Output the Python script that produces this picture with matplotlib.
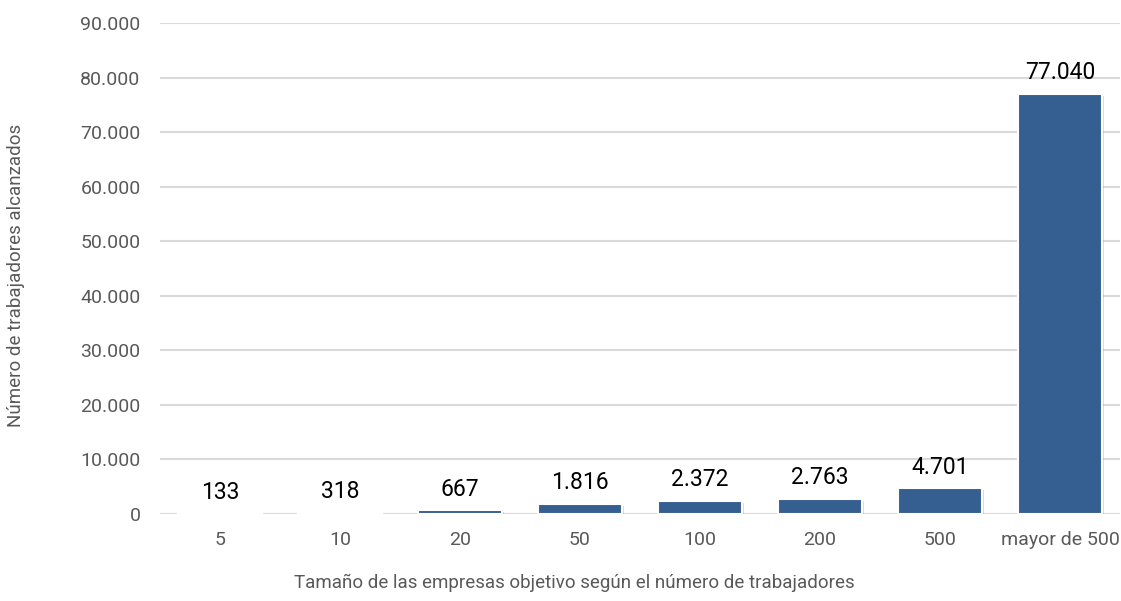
import matplotlib
matplotlib.use('Agg')
import matplotlib.pyplot as plt
import matplotlib.patheffects as pe
from matplotlib.ticker import FuncFormatter

# datos
categorias = ['5', '10', '20', '50', '100', '200', '500', 'mayor de 500']
trabajadores = [133, 318, 667, 1816, 2372, 2763, 4701, 77040]
etiquetas = ['133', '318', '667', '1.816', '2.372', '2.763', '4.701', '77.040']

COLOR_BARRA = '#365f91'
GRIS_TEXTO = '#595959'

plt.rcParams['font.family'] = ['Roboto', 'DejaVu Sans']

fig = plt.figure(figsize=(11.21, 6.01), dpi=100)
ax = fig.add_axes([160 / 1121, 1 - 514 / 601, 960 / 1121, 491 / 601])

x = list(range(len(categorias)))
barras = ax.bar(x, trabajadores, width=0.7, color=COLOR_BARRA,
                edgecolor='white', linewidth=1.5, zorder=3)
for b in barras:
    b.set_path_effects([pe.SimplePatchShadow(offset=(1.5, -1.5), shadow_rgbFace='#999999', alpha=0.35),
                        pe.Normal()])

# etiquetas de valores
for xi, v, txt in zip(x, trabajadores, etiquetas):
    ax.annotate(txt, (xi, v), xytext=(0, 7), textcoords='offset points',
                ha='center', va='bottom', fontsize=16.5, color='black')

ax.set_xlim(-0.5, len(categorias) - 0.5)
ax.set_ylim(0, 90000)
ax.set_yticks(range(0, 90001, 10000))
ax.yaxis.set_major_formatter(FuncFormatter(lambda v, p: f'{int(v):,}'.replace(',', '.')))
ax.set_xticks(x)
ax.set_xticklabels(categorias)

ax.grid(axis='y', color='#d9d9d9', linewidth=1.5, zorder=0)
ax.set_axisbelow(True)
for s in ax.spines.values():
    s.set_visible(False)
ax.tick_params(axis='both', length=0, colors=GRIS_TEXTO, labelsize=14)
ax.tick_params(axis='y', pad=14)
ax.tick_params(axis='x', pad=12)

fig.text(574 / 1121, 1 - 583 / 601, 'Tamaño de las empresas objetivo según el número de trabajadores',
         ha='center', va='center', fontsize=13.5, color=GRIS_TEXTO)
fig.text(16 / 1121, 1 - 275 / 601, 'Número de trabajadores alcanzados',
         ha='center', va='center', rotation=90, fontsize=13.5, color=GRIS_TEXTO)

plt.savefig('out.png', dpi=100)
plt.close()
